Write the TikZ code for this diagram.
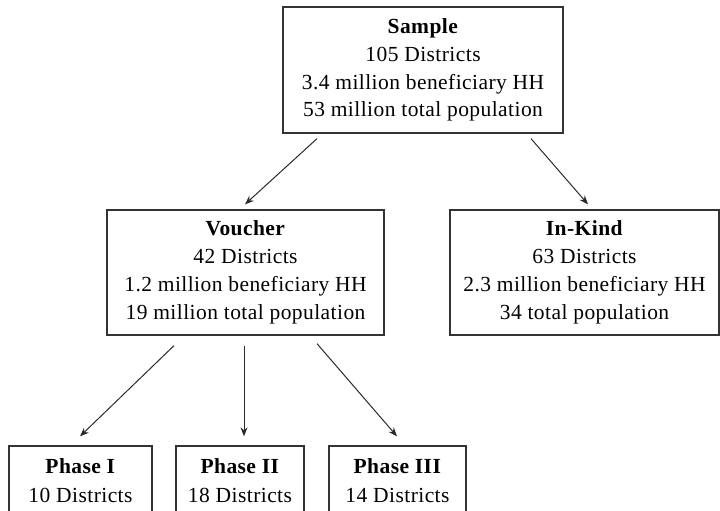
\documentclass[tikz,border=0pt]{standalone}
\usepackage{fontspec}
\setmainfont{Liberation Serif}[LetterSpace=2]
\usetikzlibrary{arrows.meta}
\definecolor{boxline}{HTML}{333333}
\definecolor{arrline}{HTML}{2A2A2A}
\tikzset{
  box/.style={draw=boxline, line width=1.3pt, rectangle, align=center, inner sep=0pt,
    font=\fontsize{21.5}{27.8}\selectfont, text=black},
  arr/.style={draw=arrline, line width=1pt, -{Stealth[length=9pt,width=7pt]}}
}
\begin{document}
\begin{tikzpicture}[x=1pt,y=-1pt]
\useasboundingbox (0,0) rectangle (720,511);
\clip (0,0) rectangle (720,511);
\node[box, minimum width=280pt, minimum height=126pt] (sample) at (423,70)
  {\textbf{Sample}\\105 Districts\\3.4 million beneficiary HH\\53 million total population};
\node[box, minimum width=277pt, minimum height=125pt] (voucher) at (245.5,272.5)
  {\textbf{Voucher}\\42 Districts\\1.2 million beneficiary HH\\19 million total population};
\node[box, minimum width=269pt, minimum height=125pt] (inkind) at (584.5,272.5)
  {\textbf{In-Kind}\\63 Districts\\2.3 million beneficiary HH\\34 total population};
\node[box, font=\fontsize{21.5}{29}\selectfont, minimum width=143pt, minimum height=69pt] (p1) at (80.5,480.5)
  {\textbf{Phase I}\\10 Districts};
\node[box, font=\fontsize{21.5}{29}\selectfont, minimum width=128pt, minimum height=69pt] (p2) at (240,480.5)
  {\textbf{Phase II}\\18 Districts};
\node[box, font=\fontsize{21.5}{29}\selectfont, minimum width=137pt, minimum height=69pt] (p3) at (397.5,480.5)
  {\textbf{Phase III}\\14 Districts};
\draw[arr] ([xshift=-106pt,yshift=-5pt]sample.south) -- ([xshift=-0.5pt,yshift=5pt]voucher.north);
\draw[arr] ([xshift=108pt,yshift=-5pt]sample.south) -- ([xshift=3.5pt,yshift=5pt]inkind.north);
\draw[arr] ([xshift=-71.5pt,yshift=-10pt]voucher.south) -- ([xshift=-0.5pt,yshift=9pt]p1.north);
\draw[arr] ([xshift=-1.5pt,yshift=-10pt]voucher.south) -- ([xshift=4pt,yshift=9pt]p2.north);
\draw[arr] ([xshift=71.5pt,yshift=-8pt]voucher.south) -- ([xshift=-0.5pt,yshift=9pt]p3.north);
\end{tikzpicture}
\end{document}
